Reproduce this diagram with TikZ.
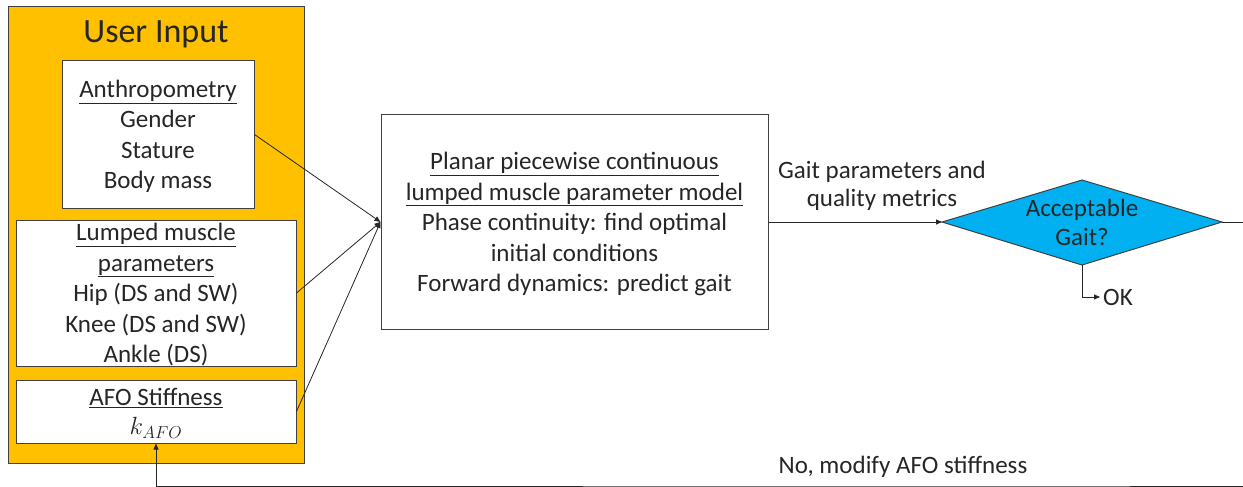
\documentclass[tikz,border=0pt]{standalone}
\usepackage{fontspec}
\setmainfont{Carlito}
\usetikzlibrary{arrows.meta}
\definecolor{uorange}{HTML}{FFC000}
\definecolor{ublue}{HTML}{00B0F0}
\definecolor{ugray}{HTML}{404040}
\begin{document}
\begin{tikzpicture}[x=1pt,y=-1pt,
  box/.style={draw=ugray, fill=white, line width=1pt, inner sep=0pt, align=center,
    text=black!85, text depth=0pt, font=\fontsize{25}{30.5}\selectfont},
  lbl/.style={align=center, inner sep=0pt, text=black!85, font=\fontsize{25}{28.5}\selectfont},
  arr/.style={-{Triangle[length=6pt,width=5pt]}, line width=0.8pt, draw=black!85}]
\useasboundingbox (0,0) rectangle (1243,487);
\begin{scope}
\clip (0,0) rectangle (1243,487);
% outer user input box
\node[draw=ugray, fill=uorange, line width=1pt, minimum width=296pt, minimum height=456pt, inner sep=0pt] (user) at (156,235) {};
\node[lbl, font=\fontsize{34}{36}\selectfont] (title) at (156,34) {User Input};
\node[box, minimum width=192pt, minimum height=147pt] (anthro) at (158,134.5)
  {\underline{Anthropometry}\\Gender\\Stature\\Body mass};
\node[box, minimum width=280pt, minimum height=146pt] (lumped) at (156,293)
  {\underline{Lumped muscle}\\\underline{parameters}\\Hip (DS and SW)\\Knee (DS and SW)\\Ankle (DS)};
\node[box, minimum width=280pt, minimum height=63pt] (afo) at (156,411.5)
  {\underline{AFO Stiffness}\\[-1pt]{\fontsize{24}{26}\selectfont$k_{AFO}$}};
% model box
\node[box, minimum width=387pt, minimum height=215pt] (model) at (574.5,222)
  {\underline{Planar piecewise continuous}\\\underline{lumped muscle parameter model}\\Phase continuity: find optimal\\initial conditions\\Forward dynamics: predict gait};
% decision diamond
\coordinate (decW) at (942,222);
\coordinate (decE) at (1222,222);
\coordinate (decN) at (1082,180);
\coordinate (decS) at (1082,265);
\draw[draw=ugray, fill=ublue, line width=1pt] (decW) -- (decN) -- (decE) -- (decS) -- cycle;
\node[lbl, font=\fontsize{25}{29}\selectfont] (dec) at (1082,222) {Acceptable\\Gait?};
\node[lbl, anchor=west] (ok) at (1103,297) {OK};
\node[lbl] (gaitlbl) at (882,186) {Gait parameters and\\quality metrics};
\node[lbl] (nolbl) at (903,467) {No, modify AFO stiffness};
\coordinate (fb) at (1000,486);
% connectors
\draw[arr] (anthro.east) -- (model.west);
\draw[arr] (lumped.east) -- (model.west);
\draw[arr] (afo.east) -- (model.west);
\draw[arr] (model.east) -- (decW);
\draw[arr] (decS) |- ([xshift=-3pt]ok.west);
\draw[arr] (decE) -- ++(40,0) |- (fb) -| (afo.south);
\end{scope}
\end{tikzpicture}
\end{document}
